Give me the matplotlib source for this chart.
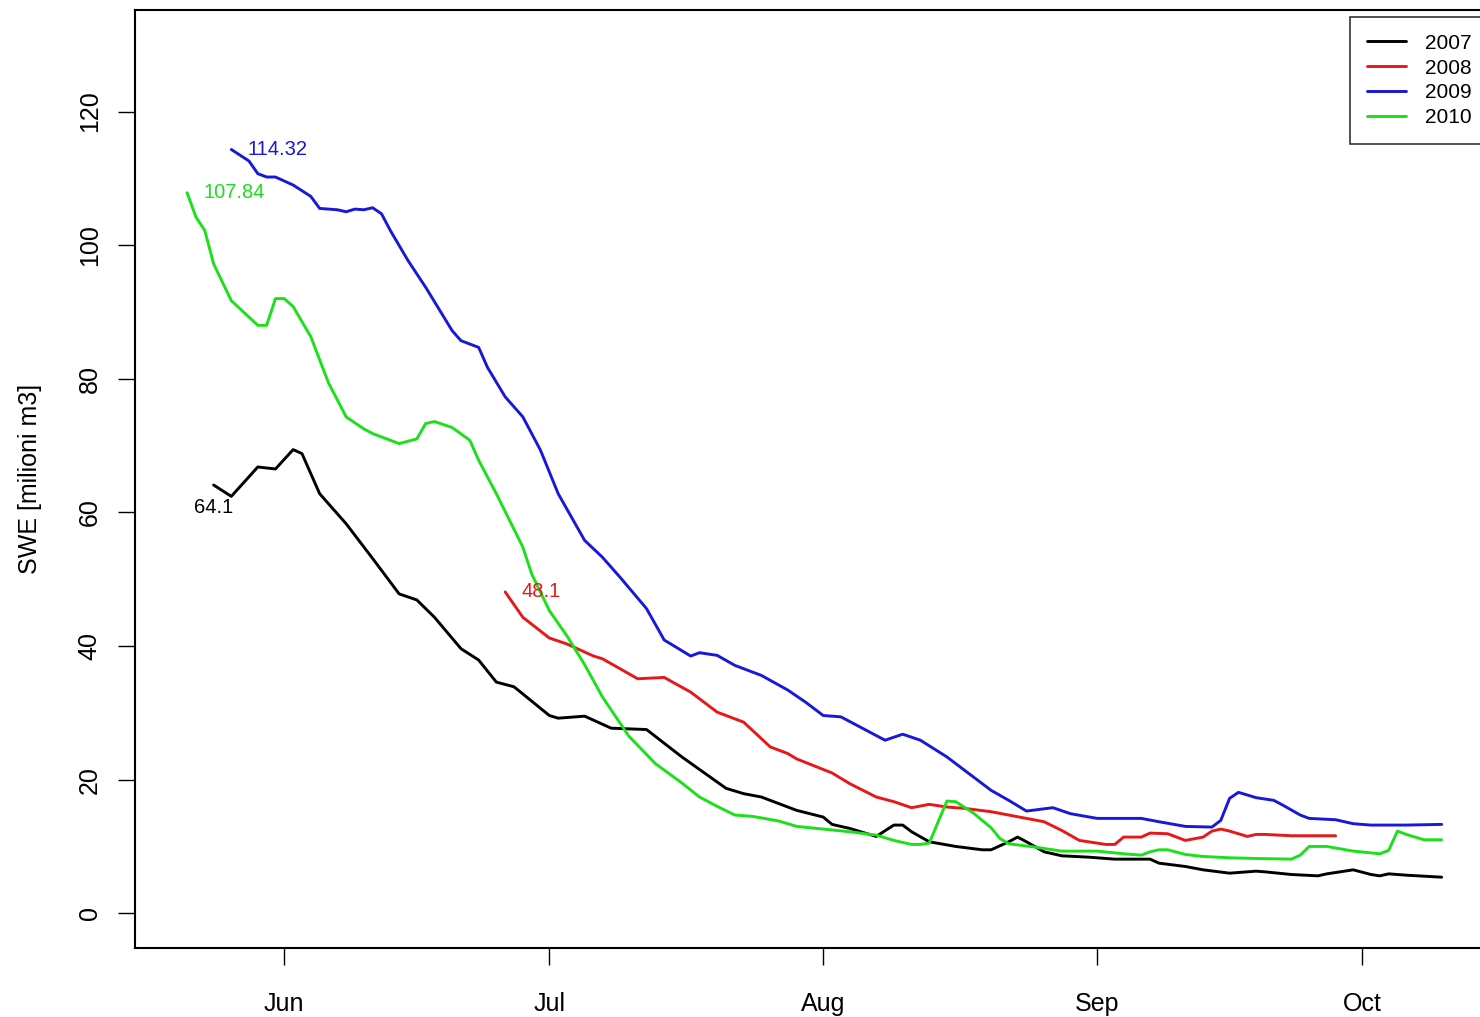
import matplotlib
matplotlib.use("Agg")
import matplotlib.pyplot as plt
import pandas as pd

plt.rcParams['font.family'] = ['Liberation Sans', 'DejaVu Sans']

# x values: days after 1 June (negative = late May)
days_2007 = [-8, -6, -3, -1, 1, 2, 4, 7, 10, 13, 15, 17, 20, 22, 24, 26, 30, 31, 34, 37,
             41, 45, 50, 52, 54, 58, 61, 62, 64, 67, 69, 70, 71, 73, 76, 79, 80, 82, 83, 84,
             86, 88, 91, 94, 98, 99, 102, 104, 107, 110, 111, 114, 117, 118, 121, 123, 124,
             125, 127, 131]
swe_2007 = [64.1, 62.4, 66.8, 66.5, 69.4, 68.8, 62.8, 58.3, 53.1, 47.8, 46.9, 44.3, 39.6, 37.9,
            34.6, 33.9, 29.6, 29.2, 29.5, 27.7, 27.5, 23.4, 18.7, 17.9, 17.4, 15.4, 14.4, 13.3,
            12.7, 11.5, 13.2, 13.2, 12.2, 10.7, 10.0, 9.5, 9.5, 10.7, 11.4, 10.7, 9.2, 8.6, 8.4,
            8.1, 8.1, 7.5, 7.0, 6.5, 6.0, 6.3, 6.2, 5.8, 5.6, 5.9, 6.5, 5.8, 5.6, 5.9, 5.7, 5.4]

days_2008 = [25, 27, 30, 32, 35, 36, 40, 43, 46, 49, 52, 55, 57, 58, 62, 64, 67, 69, 71, 73,
             75, 77, 80, 82, 86, 88, 90, 93, 94, 95, 97, 98, 100, 102, 104, 105, 106, 107,
             109, 110, 111, 114, 119]
swe_2008 = [48.1, 44.3, 41.2, 40.3, 38.5, 38.1, 35.1, 35.3, 33.1, 30.1, 28.6, 24.9, 23.9, 23.1,
            21.0, 19.4, 17.4, 16.7, 15.8, 16.3, 15.9, 15.7, 15.2, 14.7, 13.7, 12.4, 10.9, 10.3,
            10.3, 11.4, 11.4, 12.0, 11.9, 10.9, 11.4, 12.3, 12.6, 12.3, 11.5, 11.8, 11.8, 11.6,
            11.6]

days_2009 = [-6, -4, -3, -2, -1, 1, 3, 4, 6, 7, 8, 9, 10, 11, 12, 14, 16, 19, 20, 22, 23, 25,
             27, 29, 31, 34, 36, 38, 41, 43, 46, 47, 49, 51, 54, 57, 59, 61, 63, 68, 70, 72,
             75, 80, 82, 84, 87, 89, 92, 97, 99, 102, 105, 106, 107, 108, 110, 112, 113, 115,
             116, 119, 121, 123, 127, 131]
swe_2009 = [114.32, 112.6, 110.7, 110.2, 110.2, 109.0, 107.3, 105.5, 105.3, 105.0, 105.4, 105.3,
            105.6, 104.7, 102.2, 97.7, 93.7, 87.2, 85.7, 84.7, 81.7, 77.3, 74.3, 69.3, 62.8,
            55.8, 53.3, 50.3, 45.6, 40.9, 38.5, 39.0, 38.6, 37.1, 35.6, 33.4, 31.6, 29.6, 29.4,
            25.9, 26.8, 25.9, 23.4, 18.4, 16.9, 15.3, 15.8, 14.9, 14.2, 14.2, 13.7, 13.0, 12.9,
            13.9, 17.2, 18.1, 17.3, 16.9, 16.2, 14.7, 14.2, 14.0, 13.4, 13.2, 13.2, 13.3]

days_2010 = [-11, -10, -9, -8, -6, -3, -2, -1, 0, 1, 3, 5, 7, 9, 10, 13, 15, 16, 17, 19, 21,
             22, 24, 27, 28, 30, 32, 34, 36, 39, 42, 45, 47, 49, 51, 53, 56, 58, 61, 64, 67,
             69, 71, 72, 73, 75, 76, 78, 80, 81, 82, 85, 88, 92, 95, 97, 98, 99, 100, 102, 104,
             107, 110, 114, 115, 116, 118, 121, 124, 125, 126, 127, 129, 131]
swe_2010 = [107.84, 104.2, 102.2, 97.2, 91.7, 88.0, 88.0, 92.0, 92.0, 90.8, 86.3, 79.4, 74.3,
            72.5, 71.8, 70.3, 71.0, 73.3, 73.6, 72.7, 70.8, 67.8, 62.8, 54.8, 50.8, 45.3, 41.5,
            37.2, 32.4, 26.5, 22.4, 19.5, 17.4, 16.0, 14.7, 14.5, 13.8, 13.0, 12.6, 12.2, 11.7,
            10.9, 10.3, 10.3, 10.5, 16.8, 16.7, 15.0, 12.8, 11.2, 10.4, 9.9, 9.3, 9.3, 8.9, 8.7,
            9.2, 9.5, 9.5, 8.8, 8.5, 8.3, 8.2, 8.1, 8.7, 10.0, 10.0, 9.3, 8.9, 9.4, 12.3, 11.8,
            11.0, 11.0]

years = ['2007', '2008', '2009', '2010']
colors = ['#000000', '#E81818', '#1818D8', '#1CE01C']
label_pos = ['below', 'right', 'right', 'right']

month_labels = ['Jun', 'Jul', 'Aug', 'Sep', 'Oct']
month_starts = ['2001-06-01', '2001-07-01', '2001-08-01', '2001-09-01', '2001-10-01']
y_ticks = [0, 20, 40, 60, 80, 100, 120]
y_label = 'SWE [milioni m3]'

series = [(days_2007, swe_2007), (days_2008, swe_2008), (days_2009, swe_2009), (days_2010, swe_2010)]

W, H = 1480, 1017
fig = plt.figure(figsize=(W / 100, H / 100), dpi=100)
ax = fig.add_axes([135 / W, (H - 948) / H, (1492 - 135) / W, (948 - 10) / H])

for (d, v), yr, c, pos in zip(series, years, colors, label_pos):
    ax.plot(d, v, color=c, lw=2.1, label=yr, solid_joinstyle='round', solid_capstyle='round')
    lab = f"{v[0]:g}"
    if pos == 'below':
        ax.annotate(lab, (d[0], v[0]), xytext=(0, -16.5), textcoords='offset points',
                    ha='center', va='center', color=c, fontsize=14.5)
    else:
        ax.annotate(lab, (d[0], v[0]), xytext=(11.5, 0), textcoords='offset points',
                    ha='left', va='center', color=c, fontsize=14.5)

base = pd.Timestamp('2001-06-01')
xt = [(pd.Timestamp(m) - base).days for m in month_starts]
ax.set_xticks(xt)
ax.set_xticklabels(month_labels, fontsize=18)
ax.set_yticks(y_ticks)
ax.set_yticklabels([str(t) for t in y_ticks], fontsize=18, rotation=90, va='center')
ax.set_xlim(-16.9, 136.7)
ax.set_ylim(-5.2, 135.2)
ax.set_ylabel(y_label, fontsize=18, labelpad=26)
ax.tick_params(axis='x', length=12, width=1, pad=20)
ax.tick_params(axis='y', length=12, width=1, pad=12)
for s in ax.spines.values():
    s.set_linewidth(1.5)

leg = ax.legend(loc='upper left', bbox_to_anchor=(1350 / W, 1 - 17 / H),
                bbox_transform=fig.transFigure, fontsize=15, frameon=True, fancybox=False,
                edgecolor='black', handlelength=1.9, handletextpad=0.9, borderpad=0.8,
                labelspacing=0.28, borderaxespad=0)
leg.get_frame().set_linewidth(1.2)

fig.savefig('out.png', dpi=100)
